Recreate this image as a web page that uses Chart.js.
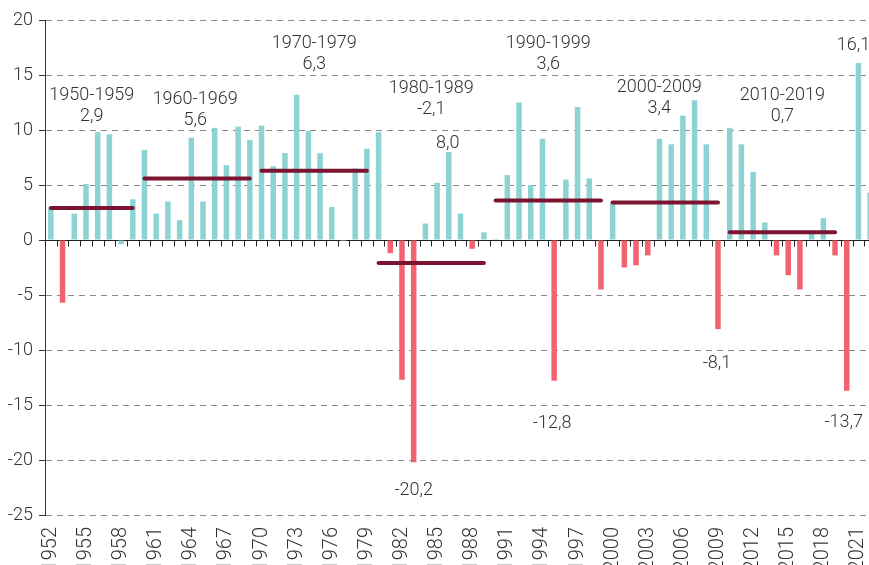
<!DOCTYPE html>
<html>
<head>
<meta charset="utf-8">
<script src="https://cdn.jsdelivr.net/npm/chart.js@4"></script>
<style>
  html, body { margin: 0; padding: 0; background: #fff; overflow: hidden; }
  #wrap { width: 880px; height: 565px; }
</style>
</head>
<body>
<div id="wrap"><canvas id="grafica"></canvas></div>
<script>
// Datos
const years = [];
for (let a = 1952; a <= 2022; a++) years.push(a);

const values = [
  3.0, -5.7, 2.4, 5.1, 9.8, 9.6, -0.4, 3.7,          // 1952-1959
  8.2, 2.4, 3.5, 1.8, 9.3, 3.5, 10.2, 6.8, 10.3, 9.1, // 1960-1969
  10.4, 6.7, 7.9, 13.2, 9.9, 7.9, 3.0, -0.1, 6.5, 8.3, // 1970-1979
  9.8, -1.2, -12.7, -20.2, 1.5, 5.2, 8.0, 2.4, -0.8, 0.7, // 1980-1989
  0.1, 5.9, 12.5, 5.0, 9.2, -12.8, 5.5, 12.1, 5.6, -4.5, // 1990-1999
  3.4, -2.5, -2.3, -1.4, 9.2, 8.7, 11.3, 12.7, 8.7, -8.1, // 2000-2009
  10.2, 8.7, 6.2, 1.6, -1.4, -3.2, -4.5, 0.6, 2.0, -1.4, // 2010-2019
  -13.7, 16.1, 4.3                                      // 2020-2022
];

// Medias por década
const decadeNames = ["1950-1959", "1960-1969", "1970-1979", "1980-1989", "1990-1999", "2000-2009", "2010-2019"];
const decadeStart = [1952, 1960, 1970, 1980, 1990, 2000, 2010];
const decadeEnd = [1959, 1969, 1979, 1989, 1999, 2009, 2019];
const decadeMeans = [2.9, 5.6, 6.3, -2.1, 3.6, 3.4, 0.7];

// Años con etiqueta de valor
const calloutYears = [1983, 1986, 1995, 2009, 2020, 2021];

// Posición de los textos (en unidades del eje y) y ajustes en px
const decadeTextY = [13.1, 12.8, 17.9, 13.8, 17.9, 13.9, 13.1];
const decadeTextDx = [0, -2, 0, 0, 0, -6, 0];
const calloutTextY = [-22.8, 8.8, -16.7, -11.2, -16.6, 17.7];
const calloutTextDx = [0, -1, -2, -1, -3, -5];

const TEAL = "#8dd3d3";
const RED = "#f2636f";
const MAROON = "#7b1431";
const TEXT = "#333333";
const FONT = "Roboto";

Chart.defaults.font.family = FONT;
Chart.defaults.font.weight = 300;
Chart.defaults.font.size = 18;
Chart.defaults.color = TEXT;

const fmt = (v) => v.toFixed(1).replace(".", ",");

// Línea del cero con marcas y textos
const extras = {
  id: "extras",
  beforeDatasetsDraw(chart) {
    const { ctx, chartArea, scales: { x, y } } = chart;
    const y0 = Math.round(y.getPixelForValue(0)) + 0.5;
    const half = (x.getPixelForValue(1) - x.getPixelForValue(0)) / 2;
    ctx.save();
    ctx.strokeStyle = "#222";
    ctx.lineWidth = 1;
    ctx.beginPath();
    ctx.moveTo(chartArea.left, y0);
    ctx.lineTo(chartArea.right, y0);
    for (let i = 0; i < years.length; i++) {
      const px = Math.round(x.getPixelForValue(i) - half) + 0.5;
      ctx.moveTo(px, y0);
      ctx.lineTo(px, y0 + 6);
    }
    ctx.stroke();
    ctx.restore();
  },
  afterDatasetsDraw(chart) {
    const { ctx, scales: { x, y } } = chart;
    ctx.save();
    ctx.font = `300 18px ${FONT}`;
    ctx.fillStyle = TEXT;
    ctx.textAlign = "center";
    ctx.textBaseline = "middle";

    decadeNames.forEach((nombre, k) => {
      const i0 = years.indexOf(decadeStart[k]);
      const i1 = years.indexOf(decadeEnd[k]);
      const cx = (x.getPixelForValue(i0) + x.getPixelForValue(i1)) / 2 + decadeTextDx[k];
      const cy = y.getPixelForValue(decadeTextY[k]);
      ctx.fillText(nombre, cx, cy);
      ctx.fillText(fmt(decadeMeans[k]), cx, cy + 21);
    });

    calloutYears.forEach((anio, k) => {
      const i = years.indexOf(anio);
      ctx.fillText(fmt(values[i]), x.getPixelForValue(i) + calloutTextDx[k], y.getPixelForValue(calloutTextY[k]));
    });
    ctx.restore();
  }
};

const datasets = [
  {
    type: "bar",
    data: values,
    backgroundColor: values.map((v) => (v < -0.5 ? RED : TEAL)),
    barPercentage: 0.47,
    categoryPercentage: 1,
    order: 2
  }
];

decadeNames.forEach((nombre, k) => {
  datasets.push({
    type: "line",
    label: nombre,
    data: years.map((a) => (a >= decadeStart[k] && a <= decadeEnd[k] ? decadeMeans[k] : null)),
    borderColor: MAROON,
    borderWidth: 4,
    borderCapStyle: "round",
    pointRadius: 0,
    spanGaps: false,
    order: 1
  });
});

new Chart(document.getElementById("grafica"), {
  data: { labels: years, datasets },
  options: {
    responsive: true,
    maintainAspectRatio: false,
    animation: false,
    layout: { padding: { top: 20, right: 4, left: 0, bottom: 0 } },
    plugins: {
      legend: { display: false },
      tooltip: { enabled: false }
    },
    scales: {
      x: {
        grid: { display: false },
        border: { display: false },
        ticks: {
          autoSkip: false,
          maxRotation: 90,
          minRotation: 90,
          padding: 4,
          color: TEXT,
          font: { size: 20 },
          callback: (v, i) => (i % 3 === 0 ? String(years[i]) : "")
        },
        afterFit: (s) => {
          s.height = 50;
          s.paddingLeft = 0;
          s.paddingRight = 0;
        }
      },
      y: {
        min: -25,
        max: 20,
        ticks: { stepSize: 5, padding: 6, color: TEXT },
        grid: {
          color: (c) => (c.tick && c.tick.value === 0 ? "rgba(0,0,0,0)" : "#8a8a8a"),
          tickColor: "#333",
          tickLength: 6
        },
        border: { display: true, color: "#333", dash: [6, 5] },
        afterFit: (s) => { s.width = 45; }
      }
    }
  },
  plugins: [extras]
});
</script>
</body>
</html>
